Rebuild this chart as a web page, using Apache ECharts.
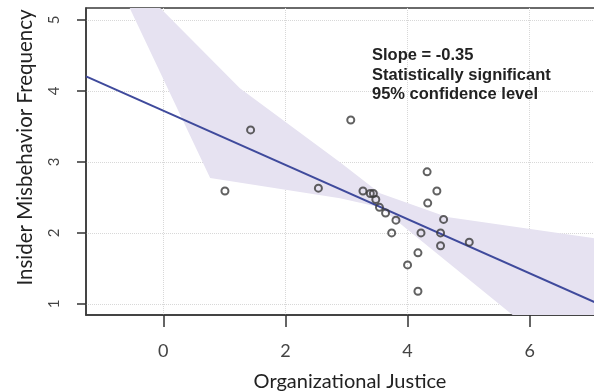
<!DOCTYPE html>
<html><head><meta charset="utf-8">
<script src="https://cdn.jsdelivr.net/npm/echarts@6/dist/echarts.min.js"></script>
<style>html,body{margin:0;padding:0;background:#fff}#c{width:594px;height:392px}</style>
</head><body><div id="c"></div>
<script>
// Observations (Organizational Justice, Insider Misbehavior Frequency)
var justice = [1.01,1.43,2.54,3.07,3.27,3.39,3.44,3.48,3.54,3.64,3.81,3.74,4.32,4.48,4.33,4.59,4.22,4.54,4.54,5.01,4.17,4.00,4.17];
var misbehavior = [2.59,3.45,2.63,3.59,2.59,2.555,2.555,2.47,2.36,2.28,2.18,2.00,2.86,2.59,2.42,2.19,2.00,2.00,1.82,1.87,1.72,1.55,1.18];
// Fitted regression line (at the plot edges)
var fitX = [-1.265, 7.38];
var fitY = [4.204, 0.904];
// 95% confidence band outline (upper edge left->right, then lower edge right->left)
var bandX = [-0.55,-0.05,1.255,2.894,3.549,4.645,7.035,7.38,7.38,5.72,3.549,2.894,0.768];
var bandY = [5.166,5.166,4.035,2.996,2.56,2.223,1.928,1.886,0.845,0.845,2.363,2.49,2.772];
var xTicks = [0,2,4,6];
var yTicks = [1,2,3,4,5];
var xRange = [-1.265, 7.38];
var yRange = [0.845, 5.166];
var annotation = ['Slope = -0.35','Statistically significant','95% confidence level'];

var pts = justice.map(function(v,i){return [v, misbehavior[i]];});
var fit = fitX.map(function(v,i){return [v, fitY[i]];});
var band = bandX.map(function(v,i){return [v, bandY[i]];});

var chart = echarts.init(document.getElementById('c'), null, {renderer:'canvas'});
var axisFont = 'Lato, "Open Sans", sans-serif';
chart.setOption({
  animation:false,
  grid:{left:86, top:8, right:-20, bottom:77, show:true, borderColor:'#3a3a3a', borderWidth:1.5, backgroundColor:'transparent', containLabel:false, outerBoundsMode:'none'},
  xAxis:{type:'value', min:xRange[0], max:xRange[1],
    name:'Organizational Justice', nameLocation:'middle', nameGap:57,
    nameTextStyle:{fontFamily:axisFont, fontSize:20, color:'#222'},
    axisLine:{show:true, onZero:false, lineStyle:{color:'#3a3a3a', width:1.5}},
    axisTick:{show:true, length:12, inside:false, customValues:xTicks, lineStyle:{color:'#333', width:1.5}},
    axisLabel:{customValues:xTicks, margin:27, fontFamily:axisFont, fontSize:18, color:'#444'},
    splitLine:{show:true, lineStyle:{type:'dotted', color:'#d8d8d8', width:1}}
  },
  yAxis:{type:'value', min:yRange[0], max:yRange[1],
    name:'Insider Misbehavior Frequency', nameLocation:'middle', nameGap:50, nameRotate:90,
    nameTextStyle:{fontFamily:axisFont, fontSize:20.5, color:'#222', padding:[0,0,0,28]},
    axisLine:{show:true, onZero:false, lineStyle:{color:'#3a3a3a', width:1.5}},
    axisTick:{show:true, length:9, inside:false, customValues:yTicks, lineStyle:{color:'#333', width:1.5}},
    axisLabel:{customValues:yTicks, rotate:90, margin:24, fontFamily:axisFont, fontSize:15, color:'#444'},
    splitLine:{show:true, lineStyle:{type:'dotted', color:'#d8d8d8', width:1}}
  },
  graphic:[{type:'text', left:372, top:46, z:100, style:{text:annotation.join('\n'), font:'bold 16.5px "Liberation Sans", Arial, sans-serif', fill:'#222', lineHeight:19.5}}],
  series:[
    {type:'custom', clip:true, z:1, data:[0], renderItem:function(params, api){
      var p = band.map(function(d){return api.coord(d);});
      return {type:'polygon', shape:{points:p}, style:{fill:'#e6e2f1', stroke:null}};
    }},
    {type:'line', data:fit, showSymbol:false, z:3, lineStyle:{color:'#3f4a9c', width:2}, clip:true},
    {type:'scatter', data:pts, z:4, symbol:'circle', symbolSize:7, itemStyle:{color:'rgba(255,255,255,0)', borderColor:'#3a3a3a', borderWidth:2}}
  ]
});
</script></body></html>
